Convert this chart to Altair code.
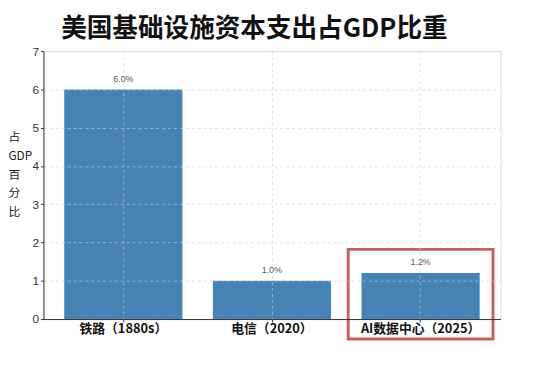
import altair as alt
import pandas as pd

categories = ["铁路（1880s）", "电信（2020）", "AI数据中心（2025）"]
values = [6.0, 1.0, 1.2]
labels = ["6.0%", "1.0%", "1.2%"]
y_ticks = [0, 1, 2, 3, 4, 5, 6, 7]
highlight = ["AI数据中心（2025）"]

df = pd.DataFrame({"cat": categories, "val": values, "lab": labels})
hl = pd.DataFrame({"cat": highlight})

FONT = "Noto Sans CJK SC"

x = alt.X("cat:N", sort=categories,
          scale=alt.Scale(paddingInner=0.205, paddingOuter=0.14),
          axis=alt.Axis(title=None, labelAngle=0, labelFontSize=13, labelColor="#111",
                        labelFont=FONT, labelFontWeight="bold", labelPadding=1, tickSize=3,
                        tickColor="#333", domainColor="#333", grid=True, gridDash=[3, 3],
                        gridColor="#d0d0d0", gridOpacity=0.6, zindex=1))
y = alt.Y("val:Q", scale=alt.Scale(domain=[0, 7], nice=False),
          axis=alt.Axis(values=y_ticks, tickCount=8, labelOverlap=False,
                        title=["占", "GDP", "百", "分", "比"],
                        titleAngle=0, titleFontSize=12, titleFontWeight="normal",
                        titleColor="#222", titleFont=FONT, titleX=-36, titleY=82,
                        titleAlign="left", titleBaseline="top", titleLineHeight=19,
                        labelFontSize=12, labelColor="#333", labelPadding=2, tickSize=3,
                        tickColor="#333", domainColor="#333", gridDash=[3, 3],
                        gridColor="#d0d0d0", gridOpacity=0.6, zindex=1))

bars = alt.Chart(df).mark_bar(color="#4682b4").encode(x=x, y=y)
text = alt.Chart(df).mark_text(fontSize=9, color="#555", dy=-6, baseline="bottom").encode(
    x=x, y=y, text="lab:N")
box = alt.Chart(hl).mark_bar(filled=False, stroke="#c0504d", strokeWidth=3, width=147,
                             opacity=0.9).encode(
    x=x, y=alt.datum(-0.52), y2=alt.datum(1.82))

chart = alt.layer(bars, text, box).properties(
    width=464, height=272,
    autosize=alt.AutoSizeParams(type="none"),
    padding={"left": 36, "top": 41, "right": 31, "bottom": 54},
    title=alt.Title("美国基础设施资本支出占GDP比重", fontSize=26, fontWeight="bold",
                    font=FONT, color="#111", anchor="start", frame="group", dx=18,
                    offset=3),
).configure_view(stroke=None).configure(background="white")

chart.save("out.html", embed_options={"renderer": "svg", "actions": False})
